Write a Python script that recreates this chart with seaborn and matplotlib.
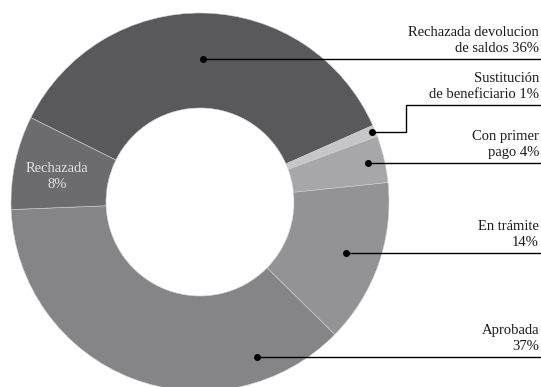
import numpy as np
import matplotlib
matplotlib.use("Agg")
import matplotlib.pyplot as plt
import seaborn as sns

# Estado de las solicitudes (porcentaje)
categorias = ["Rechazada devolucion\nde saldos", "Sustitución\nde beneficiario",
              "Con primer\npago", "En trámite\n", "Aprobada\n", "Rechazada\n"]
valores = [36, 1, 4, 14, 37, 8]
colores = ["#59595c", "#c6c6c8", "#a7a7a9", "#939396", "#858588", "#6c6c6f"]

sns.set_theme(style="white")
plt.rcParams["font.family"] = ["Liberation Serif", "DejaVu Serif"]

W, H = 541, 387
fig = plt.figure(figsize=(W / 100, H / 100), dpi=100)
ax = fig.add_axes([0, 0, 1, 1])

cx, cy, R, r = 200, H - 202, 189, 94
wedges, _ = ax.pie(valores, colors=colores, startangle=153.5, counterclock=False,
                   center=(cx, cy), radius=R, frame=True,
                   wedgeprops=dict(width=R - r, edgecolor="#d0d0d2", linewidth=0.4))
ax.set_xlim(0, W)
ax.set_ylim(0, H)
ax.set_aspect("equal")
ax.axis("off")

# posición del punto (o del texto interior) dentro de cada sector:
# (fracción angular desde theta1, radio)
anclas = [(0.5, 143), (0.5, 186), (0.5, 173), (0.5, 155), (0.81, 165), (0.57, 145)]
fs = 10.5
xr = 539
for i, (w, cat, v) in enumerate(zip(wedges, categorias, valores)):
    t1, t2 = w.theta1, w.theta2
    frac, rad = anclas[i]
    ang = np.deg2rad(t1 + frac * (t2 - t1))
    px, py = cx + rad * np.cos(ang), cy + rad * np.sin(ang)
    l1, l2 = cat.split("\n")
    if i == len(wedges) - 1:
        ax.text(px, py, f"{l1}\n{v}%", ha="center", va="center",
                color="#e2e2e2", fontsize=fs, linespacing=1.3)
        continue
    ax.plot([px], [py], "o", color="black", markersize=4, zorder=5)
    texto = f"{l1}\n{l2} {v}%" if l2 else f"{l1}\n{v}%"
    if i == 1:
        ly = H - 105
        xm = 406
        ax.plot([px, xm, xm, W], [py, py, ly, ly], color="black", lw=1, zorder=4)
    else:
        ly = py
        ax.plot([px, W], [py, py], color="black", lw=1, zorder=4)
    ax.text(xr, ly + 4, texto, ha="right", va="bottom", color="#1a1a1a",
            fontsize=fs, linespacing=1.3)

fig.savefig("out.png", dpi=100)
